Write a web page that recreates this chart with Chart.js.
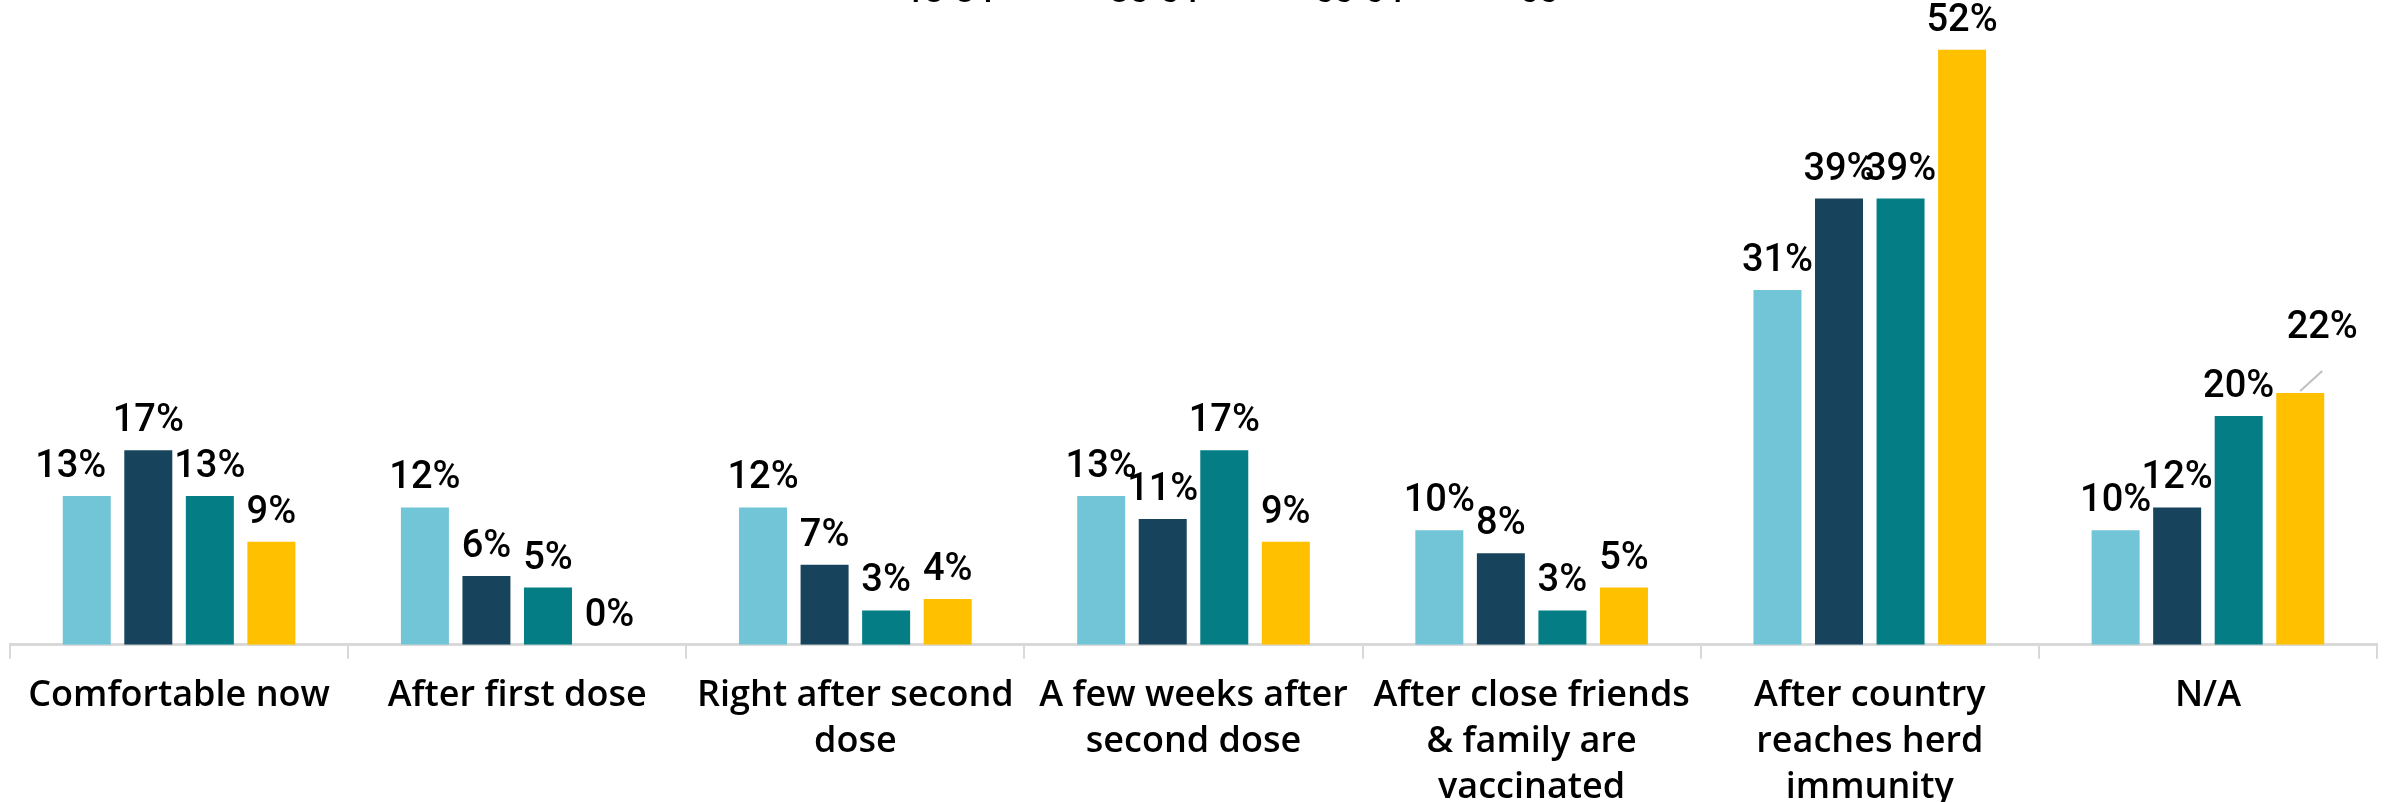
<!DOCTYPE html>
<html>
<head>
    <title>Vaccination comfort by age</title>
    <script src="https://cdn.jsdelivr.net/npm/chart.js"></script>
    <style>
        body {
            margin: 0;
            background: #ffffff;
        }

        #wrap {
            position: relative;
            width: 2387px;
            height: 802px;
            overflow: hidden;
        }

        #wrap canvas {
            position: absolute;
            left: 0;
            top: -45px;
        }
    </style>
</head>
<body>
    <div id="wrap">
        <canvas id="comfortChart" width="2387" height="870"></canvas>
    </div>

    <script>
        // Categories and series
        var categories = [
            'Comfortable now',
            'After first dose',
            ['Right after second', 'dose'],
            ['A few weeks after', 'second dose'],
            ['After close friends', '& family are', 'vaccinated'],
            ['After country', 'reaches herd', 'immunity'],
            'N/A'
        ];
        var seriesNames = ['18-34', '35-54', '55-64', '65+'];
        var age18to34 = [13, 12, 12, 13, 10, 31, 10];
        var age35to54 = [17, 6, 7, 11, 8, 39, 12];
        var age55to64 = [13, 5, 3, 17, 3, 39, 20];
        var age65plus = [9, 0, 4, 9, 5, 52, 22];

        var colors = ['#72c5d6', '#17445c', '#047e84', '#ffc000'];
        var fontName = "'Open Sans', sans-serif";
        var labelFont = "Roboto, sans-serif";

        // Percent labels above each bar
        var barLabels = {
            id: 'barLabels',
            afterDatasetsDraw: function(chart) {
                var ctx = chart.ctx;
                ctx.save();
                ctx.font = '500 38px ' + labelFont;
                ctx.fillStyle = '#000000';
                ctx.textAlign = 'center';
                ctx.textBaseline = 'alphabetic';
                chart.data.datasets.forEach(function(ds, i) {
                    var meta = chart.getDatasetMeta(i);
                    meta.data.forEach(function(bar, j) {
                        var x = bar.x;
                        var y = bar.y - 19;
                        var shift = ds.labelShift && ds.labelShift[j];
                        if (shift) {
                            if (shift[2]) {
                                // leader line for a label moved away from its bar
                                ctx.strokeStyle = '#bfbfbf';
                                ctx.lineWidth = 2;
                                ctx.beginPath();
                                ctx.moveTo(bar.x, bar.y - 2);
                                ctx.lineTo(bar.x + shift[0], bar.y + shift[1] + 14);
                                ctx.stroke();
                            }
                            x += shift[0];
                            y += shift[1];
                        }
                        ctx.fillText(ds.data[j] + '%', x, y);
                    });
                });
                ctx.restore();
            }
        };

        var ctx = document.getElementById('comfortChart').getContext('2d');
        new Chart(ctx, {
            type: 'bar',
            data: {
                labels: categories,
                datasets: [
                    { label: seriesNames[0], data: age18to34, backgroundColor: colors[0],
                      labelShift: { 0: [-16, 0] } },
                    { label: seriesNames[1], data: age35to54, backgroundColor: colors[1] },
                    { label: seriesNames[2], data: age55to64, backgroundColor: colors[2] },
                    { label: seriesNames[3], data: age65plus, backgroundColor: colors[3],
                      labelShift: { 6: [22, -36, true] } }
                ]
            },
            options: {
                responsive: false,
                animation: false,
                datasets: {
                    bar: {
                        categoryPercentage: 0.728,
                        barPercentage: 0.78
                    }
                },
                layout: {
                    padding: { left: 10, right: 10, top: 0, bottom: 0 }
                },
                plugins: {
                    legend: {
                        position: 'top',
                        labels: {
                            color: '#000000',
                            font: { family: labelFont, size: 34, weight: '500' },
                            boxWidth: 78,
                            boxHeight: 14,
                            padding: 21
                        }
                    },
                    tooltip: { enabled: false }
                },
                scales: {
                    x: {
                        grid: {
                            offset: true,
                            drawOnChartArea: false,
                            color: '#d9d9d9',
                            lineWidth: 2,
                            tickLength: 14
                        },
                        border: { color: '#d9d9d9', width: 3 },
                        ticks: {
                            color: '#000000',
                            padding: 14,
                            maxRotation: 0,
                            autoSkip: false,
                            font: { family: fontName, size: 36, weight: '600', lineHeight: 1.28 }
                        }
                    },
                    y: {
                        display: false,
                        min: 0,
                        max: 54.6
                    }
                }
            },
            plugins: [barLabels]
        });
    </script>
</body>
</html>
